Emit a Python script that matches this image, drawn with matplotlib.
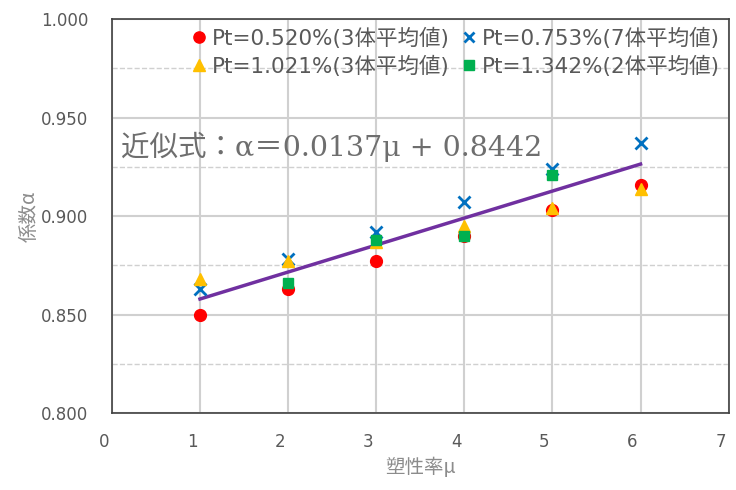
import matplotlib.pyplot as plt
import matplotlib.transforms as mtransforms
import numpy as np

plt.rcParams['font.family'] = ['DejaVu Sans', 'Noto Sans CJK JP']

# 塑性率μ
mu = [1, 2, 3, 4, 5, 6]
# 係数α
a_0520 = [0.850, 0.863, 0.877, 0.890, 0.903, 0.916]
a_0753 = [0.863, 0.878, 0.892, 0.907, 0.924, 0.937]
a_1021 = [0.868, 0.877, 0.887, 0.895, 0.904, 0.914]
mu_1342 = [2, 3, 4, 5]
a_1342 = [0.866, 0.888, 0.890, 0.921]

labels = ['Pt=0.520%(3体平均値)', 'Pt=0.753%(7体平均値)',
          'Pt=1.021%(3体平均値)', 'Pt=1.342%(2体平均値)']
slope = 0.0137
intercept = 0.8442

fig = plt.figure(figsize=(7.36, 4.9), dpi=100)
ax = fig.add_axes([0.152, 0.157, 0.838, 0.804])

# 近似直線
fit_x = np.array([mu[0], mu[-1]])
ax.plot(fit_x, slope * fit_x + intercept, color='#7030A0', lw=2.5, zorder=3)

h1, = ax.plot(mu, a_0520, 'o', color='#FF0000', ms=8.5, ls='none', zorder=4, label=labels[0])
h2, = ax.plot(mu, a_0753, 'x', color='#0070C0', ms=8, mew=2, ls='none', zorder=4, label=labels[1])
h3, = ax.plot(mu, a_1021, '^', color='#FFC000', ms=9, ls='none', zorder=4, label=labels[2])
h4, = ax.plot(mu_1342, a_1342, 's', color='#00B050', ms=7.5, ls='none', zorder=4, label=labels[3])

ax.set_xlim(0, 7)
ax.set_ylim(0.8, 1.0)
ax.set_xticks(range(8))
ax.set_yticks([0.80, 0.85, 0.90, 0.95, 1.00])
ax.set_yticklabels(['0.800', '0.850', '0.900', '0.950', '1.000'])
ax.set_yticks([0.825, 0.875, 0.925, 0.975], minor=True)

# グリッド
ax.grid(axis='both', which='major', color='#D0D0D0', lw=1.5, zorder=0)
ax.grid(axis='y', which='minor', color='#D0D0D0', lw=1, ls='--', zorder=0)
ax.set_axisbelow(True)

ax.tick_params(axis='both', which='both', length=0, labelsize=12, labelcolor='#595959')
ax.tick_params(axis='x', pad=14)
ax.tick_params(axis='y', pad=17)
offset = mtransforms.ScaledTranslation(-8 / 100, 0, fig.dpi_scale_trans)
for lbl in ax.get_xticklabels():
    lbl.set_transform(lbl.get_transform() + offset)

for s in ax.spines.values():
    s.set_color('#404040')
    s.set_linewidth(1.2)

ax.set_xlabel('塑性率μ', fontsize=14, color='#8C8C8C', labelpad=5,
              family=['Noto Sans CJK JP', 'DejaVu Sans'])
ax.set_ylabel('係数α', fontsize=14, color='#8C8C8C', labelpad=1,
              family=['Noto Sans CJK JP', 'DejaVu Sans'])

ax.text(0.015, 0.935, '近似式：α＝0.0137μ + 0.8442', transform=ax.get_yaxis_transform(),
        fontsize=20.5, color='#6E6E6E', family=['DejaVu Serif', 'Noto Sans CJK JP'],
        va='center', ha='left')

ax.legend(handles=[h1, h3, h2, h4], ncol=2, loc='upper right', frameon=False,
          fontsize=15.5, labelcolor='#595959', handletextpad=0.1, columnspacing=0.4,
          handlelength=1.0, borderaxespad=0.0, labelspacing=0.3, markerscale=0.95)

fig.savefig('out.png', dpi=100)
